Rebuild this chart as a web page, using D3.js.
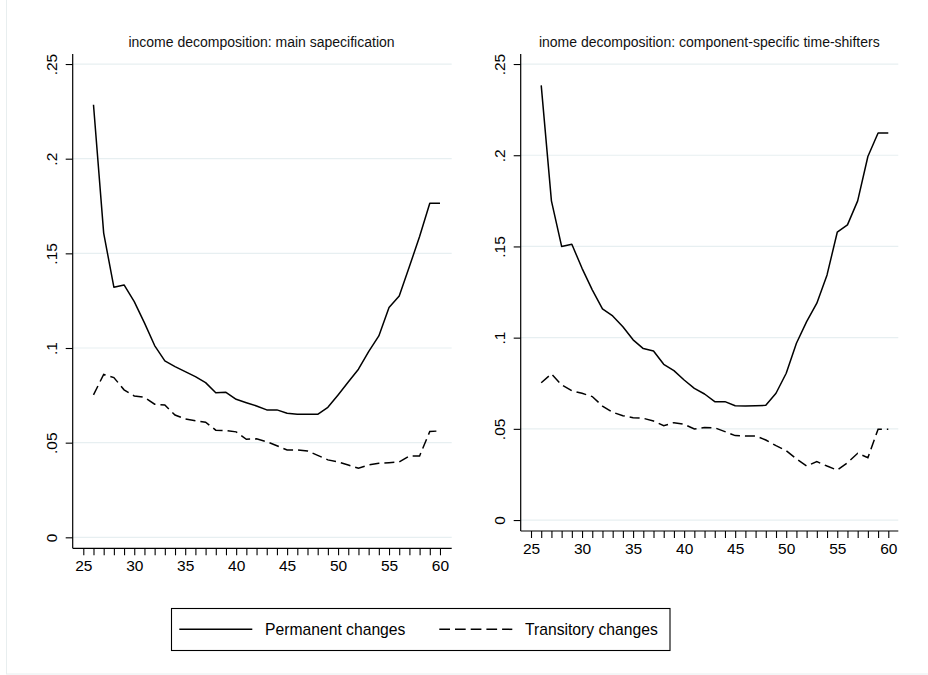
<!DOCTYPE html>
<html>
<head>
<meta charset="utf-8">
<script src="https://cdn.jsdelivr.net/npm/d3@7"></script>
<style>
  html, body { margin: 0; padding: 0; background: #fff; }
  svg { display: block; font-family: "Liberation Sans", Arial, sans-serif; }
</style>
</head>
<body>
<svg id="chart" width="928" height="675"></svg>
<script>
// Age grid shared by both panels
const ages = d3.range(26, 61);

// Panel titles
const titleMain = "income decomposition: main sapecification";
const titleShift = "inome decomposition: component-specific time-shifters";

// Main specification: permanent and transitory variance by age
const mainPermanent = [
  0.2285, 0.1607, 0.1321, 0.1333, 0.1245, 0.1133, 0.1013, 0.0932, 0.0902, 0.0875,
  0.0849, 0.0817, 0.0764, 0.0766, 0.0729, 0.0711, 0.0694, 0.0673, 0.0673, 0.0655,
  0.0650, 0.0650, 0.0650, 0.0687, 0.0752, 0.0820, 0.0888, 0.0981, 0.1064, 0.1214,
  0.1275, 0.1430, 0.1589, 0.1765, 0.1765
];
const mainTransitory = [
  0.0752, 0.0861, 0.0844, 0.0779, 0.0747, 0.0740, 0.0703, 0.0699, 0.0646, 0.0625,
  0.0616, 0.0608, 0.0566, 0.0564, 0.0557, 0.0518, 0.0520, 0.0505, 0.0484, 0.0461,
  0.0461, 0.0456, 0.0433, 0.0409, 0.0398, 0.0382, 0.0365, 0.0382, 0.0391, 0.0394,
  0.0398, 0.0430, 0.0430, 0.0559, 0.0562
];

// Component-specific time shifters
const shiftPermanent = [
  0.2383, 0.1750, 0.1500, 0.1512, 0.1380, 0.1262, 0.1158, 0.1119, 0.1060, 0.0988,
  0.0940, 0.0927, 0.0854, 0.0819, 0.0768, 0.0722, 0.0691, 0.0649, 0.0649, 0.0627,
  0.0625, 0.0627, 0.0629, 0.0695, 0.0805, 0.0969, 0.1088, 0.1189, 0.1344, 0.1578,
  0.1618, 0.1750, 0.1993, 0.2122, 0.2122
];
const shiftTransitory = [
  0.0753, 0.0801, 0.0741, 0.0709, 0.0695, 0.0677, 0.0625, 0.0591, 0.0572, 0.0561,
  0.0558, 0.0543, 0.0517, 0.0534, 0.0525, 0.0499, 0.0508, 0.0506, 0.0485, 0.0463,
  0.0461, 0.0461, 0.0439, 0.0408, 0.0380, 0.0335, 0.0296, 0.0320, 0.0296, 0.0274,
  0.0314, 0.0366, 0.0342, 0.0498, 0.0498
];

// Axis ticks
const yTicks = [0, 0.05, 0.10, 0.15, 0.20, 0.25];
const yTickLabels = ["0", ".05", ".1", ".15", ".2", ".25"];
const xMajor = [25, 30, 35, 40, 45, 50, 55, 60];
const xMinor = d3.range(25, 61);

// Legend
const legendLabels = ["Permanent changes", "Transitory changes"];

const svg = d3.select("#chart");

// faint outer frame of the graph region
svg.append("rect")
  .attr("x", 6.5).attr("y", -5).attr("width", 940).attr("height", 679)
  .attr("fill", "none").attr("stroke", "#e8eeef").attr("stroke-width", 1);

const panels = [
  { title: titleMain, perm: mainPermanent, trans: mainTransitory,
    left: 72.7, right: 451.7, top: 54, bottom: 548.3,
    xDom: [23.96, 61.15], yDom: [-0.0058, 0.2553], titleX: 261.5 },
  { title: titleShift, perm: shiftPermanent, trans: shiftTransitory,
    left: 520.7, right: 898.3, top: 54, bottom: 531,
    xDom: [23.99, 60.98], yDom: [-0.006, 0.2555], titleX: 709.3 }
];

const dash = "10,5";

panels.forEach(p => {
  const x = d3.scaleLinear().domain(p.xDom).range([p.left, p.right]);
  const y = d3.scaleLinear().domain(p.yDom).range([p.bottom, p.top]);
  const g = svg.append("g");

  // title
  g.append("text")
    .attr("x", p.titleX).attr("y", 46.5)
    .attr("text-anchor", "middle")
    .attr("font-size", 14).attr("fill", "#111")
    .text(p.title);

  // horizontal grid lines
  g.selectAll("line.grid").data(yTicks).join("line")
    .attr("class", "grid")
    .attr("x1", p.left).attr("x2", p.right)
    .attr("y1", d => y(d)).attr("y2", d => y(d))
    .attr("stroke", "#e7eff1").attr("stroke-width", 1.2);

  // y axis
  const yAxis = d3.axisLeft(y).tickValues(yTicks)
    .tickFormat((d, i) => yTickLabels[i]).tickSize(7).tickSizeOuter(0);
  const ya = g.append("g").attr("transform", `translate(${p.left},0)`).call(yAxis);
  ya.select(".domain").attr("d", `M0,${p.top}V${p.bottom}`).attr("stroke", "#000").attr("stroke-width", 1.2);
  ya.selectAll(".tick line").attr("stroke", "#000").attr("stroke-width", 1.1);
  ya.selectAll(".tick text")
    .attr("font-size", 15.5).attr("font-family", "Liberation Sans, Arial, sans-serif")
    .attr("fill", "#000")
    .attr("x", null).attr("dy", null)
    .attr("text-anchor", "middle")
    .attr("transform", "translate(-15.5,0) rotate(-90)");

  // x axis: yearly ticks, labels every five years
  const xAxis = d3.axisBottom(x).tickValues(xMinor)
    .tickFormat(d => xMajor.includes(d) ? String(d) : "")
    .tickSize(7).tickSizeOuter(0);
  const xa = g.append("g").attr("transform", `translate(0,${p.bottom})`).call(xAxis);
  xa.select(".domain").attr("d", `M${p.left},0H${p.right}`).attr("stroke", "#000").attr("stroke-width", 1.2);
  xa.selectAll(".tick line").attr("stroke", "#000").attr("stroke-width", 1.1);
  xa.selectAll(".tick text")
    .attr("font-size", 15.5).attr("font-family", "Liberation Sans, Arial, sans-serif")
    .attr("fill", "#000")
    .attr("y", 23.2).attr("dy", null);

  const line = d3.line().x((d, i) => x(ages[i])).y(d => y(d));

  g.append("path").datum(p.perm)
    .attr("d", line).attr("fill", "none")
    .attr("stroke", "#000").attr("stroke-width", 1.5).attr("stroke-linejoin", "round");

  g.append("path").datum(p.trans)
    .attr("d", line).attr("fill", "none")
    .attr("stroke", "#000").attr("stroke-width", 1.5)
    .attr("stroke-dasharray", dash);
});

// legend
const lg = svg.append("g");
lg.append("rect")
  .attr("x", 171.5).attr("y", 608.5).attr("width", 498.5).attr("height", 42)
  .attr("fill", "#fff").attr("stroke", "#000").attr("stroke-width", 1.1);

const legendItems = [
  { label: legendLabels[0], x1: 179.3, x2: 252.3, tx: 265, dashed: false },
  { label: legendLabels[1], x1: 439.3, x2: 512.3, tx: 525, dashed: true }
];
legendItems.forEach(it => {
  lg.append("line")
    .attr("x1", it.x1).attr("x2", it.x2).attr("y1", 629.3).attr("y2", 629.3)
    .attr("stroke", "#000").attr("stroke-width", 1.5)
    .attr("stroke-dasharray", it.dashed ? "10.7,5" : null);
  lg.append("text")
    .attr("x", it.tx).attr("y", 635.3)
    .attr("font-size", 15.7).attr("fill", "#000")
    .text(it.label);
});
</script>
</body>
</html>
